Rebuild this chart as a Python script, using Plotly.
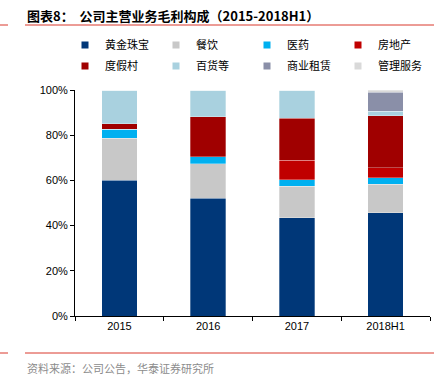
import plotly.graph_objects as go

categories = ["2015", "2016", "2017", "2018H1"]
series_names = ["黄金珠宝", "餐饮", "医药", "房地产", "度假村", "百货等", "商业租赁", "管理服务"]
gold_jewelry = [60.0, 52.2, 43.5, 45.7]
catering = [18.6, 15.1, 14.0, 12.7]
pharma = [4.1, 3.2, 2.7, 2.7]
real_estate = [0.0, 0.0, 8.8, 4.4]
resort = [2.3, 17.7, 18.5, 23.1]
department = [15.0, 11.8, 12.5, 2.0]
leasing = [0.0, 0.0, 0.0, 8.4]
mgmt_service = [0.0, 0.0, 0.0, 1.0]
colors = ["#003778", "#C8C8C8", "#00B0F0", "#C00000", "#A00000", "#A9D1DF", "#8A8FA8", "#D9D9D9"]
y_ticks = [0, 20, 40, 60, 80, 100]
y_tick_labels = ["0%", "20%", "40%", "60%", "80%", "100%"]

values = [gold_jewelry, catering, pharma, real_estate, resort, department, leasing, mgmt_service]

W, H = 442, 379
L, R, T, B = 75, 430, 90, 316

def xp(px):
    return (px - L) / (R - L)

def yp(py):
    return (B - py) / (B - T)

FONT = "Liberation Sans, Arial, Noto Sans CJK SC"
CJK = "Noto Sans CJK SC, Liberation Sans"

fig = go.Figure()
for name, vals, col in zip(series_names, values, colors):
    fig.add_trace(go.Bar(
        x=categories, y=vals, name=name, marker_color=col,
        marker_line_color="rgba(255,255,255,0.6)", marker_line_width=0.5,
        width=0.4, showlegend=False, hoverinfo="name+y",
    ))
for i, (name, col) in enumerate(zip(series_names, colors)):
    fig.add_trace(go.Scatter(
        x=[None], y=[None], mode="markers", name=name,
        marker=dict(symbol="square", size=7, color=col), showlegend=True,
        legend="legend" if i < 4 else "legend2",
    ))

leg_common = dict(
    orientation="h", xanchor="left", yanchor="middle",
    entrywidth=46, entrywidthmode="pixels", traceorder="normal",
    font=dict(family=CJK, size=11, color="#000000"),
    itemwidth=30, bgcolor="rgba(0,0,0,0)",
)

fig.update_layout(
    width=W, height=H,
    margin=dict(l=L, r=W - R, t=T, b=H - B),
    paper_bgcolor="white", plot_bgcolor="white",
    barmode="stack", bargap=0.6,
    font=dict(family=FONT, size=11, color="#000000"),
    legend=dict(x=xp(65), y=yp(45), **leg_common),
    legend2=dict(x=xp(65), y=yp(66), **leg_common),
    xaxis=dict(
        type="category", showline=True, linecolor="#000000", linewidth=1,
        ticks="outside", ticklen=4, tickcolor="#000000", tickson="boundaries",
        showgrid=False, tickfont=dict(family=FONT, size=11),
    ),
    yaxis=dict(
        range=[0, 100], tickvals=y_ticks, ticktext=y_tick_labels,
        showline=True, linecolor="#000000", linewidth=1,
        ticks="outside", ticklen=4, tickcolor="#000000",
        showgrid=False, zeroline=False, tickfont=dict(family=FONT, size=11),
    ),
    annotations=[
        dict(text="<b>图表8：  公司主营业务毛利构成（2015-2018H1）</b>",
             xref="paper", yref="paper", x=xp(25), y=yp(15), xanchor="left", yanchor="middle",
             showarrow=False, font=dict(family=CJK, size=13, color="#000000")),
        dict(text="资料来源：公司公告，华泰证券研究所",
             xref="paper", yref="paper", x=xp(25), y=yp(368), xanchor="left", yanchor="middle",
             showarrow=False, font=dict(family=CJK, size=11, color="#8C8C8C")),
    ],
    shapes=[
        dict(type="line", xref="paper", yref="paper", x0=xp(25), x1=xp(434), y0=yp(25), y1=yp(25),
             line=dict(color="#D9382C", width=1)),
        dict(type="line", xref="paper", yref="paper", x0=xp(25), x1=xp(434), y0=yp(353), y1=yp(353),
             line=dict(color="#D9382C", width=1)),
        dict(type="line", xref="paper", yref="paper", x0=xp(0), x1=xp(8), y0=yp(25), y1=yp(25),
             line=dict(color="#D9382C", width=1)),
        dict(type="line", xref="paper", yref="paper", x0=xp(0), x1=xp(8), y0=yp(353), y1=yp(353),
             line=dict(color="#D9382C", width=1)),
    ],
)

fig.write_html("out.html", config={"displayModeBar": False},
               post_script="document.body.style.margin='0';")
